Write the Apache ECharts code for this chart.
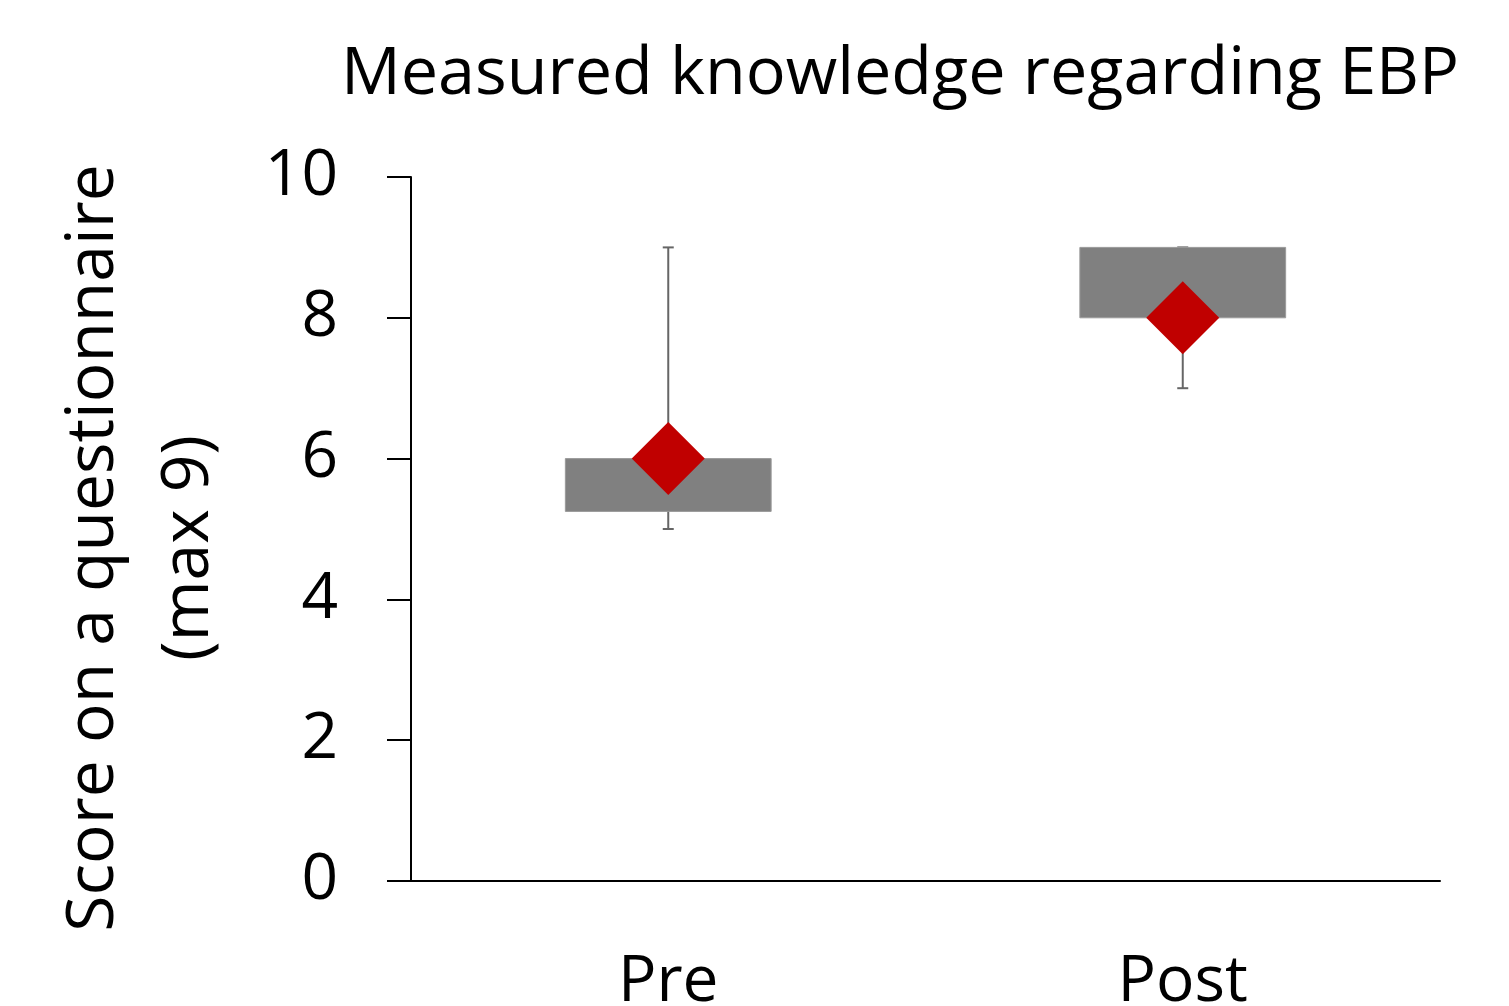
<!DOCTYPE html>
<html>
<head>
<meta charset="utf-8">
<script src="https://cdn.jsdelivr.net/npm/echarts@6/dist/echarts.min.js"></script>
<style>
  html, body { margin: 0; padding: 0; background: #fff; }
  #chart { width: 1509px; height: 1006px; }
</style>
</head>
<body>
<div id="chart"></div>
<script>
// Knowledge scores before and after the EBP course
const categories = ['Pre', 'Post'];
const whiskerLow = [5, 7];
const boxLow = [5.25, 8];
const boxHigh = [6, 9];
const whiskerHigh = [9, 9];
const means = [6, 8];
const yTicks = [0, 2, 4, 6, 8, 10];

const FONT = '"Open Sans", sans-serif';

const boxData = categories.map((c, i) => [i, whiskerLow[i], boxLow[i], boxHigh[i], whiskerHigh[i]]);
const meanData = categories.map((c, i) => [i, means[i]]);

function renderBox(params, api) {
  const x = api.value(0);
  const pLow = api.coord([x, api.value(1)]);
  const pQ1 = api.coord([x, api.value(2)]);
  const pQ3 = api.coord([x, api.value(3)]);
  const pHigh = api.coord([x, api.value(4)]);
  const bandW = api.size([1, 0])[0];
  const boxW = bandW * 0.4;
  const capW = 11;
  const cx = pLow[0];
  const whiskerStyle = { stroke: '#666666', lineWidth: 2 };
  return {
    type: 'group',
    children: [
      { type: 'line', shape: { x1: cx, y1: pLow[1], x2: cx, y2: pHigh[1] }, style: whiskerStyle },
      { type: 'line', shape: { x1: cx - capW / 2, y1: pLow[1], x2: cx + capW / 2, y2: pLow[1] }, style: whiskerStyle },
      { type: 'line', shape: { x1: cx - capW / 2, y1: pHigh[1], x2: cx + capW / 2, y2: pHigh[1] }, style: whiskerStyle },
      {
        type: 'rect',
        shape: { x: cx - boxW / 2, y: pQ3[1], width: boxW, height: pQ1[1] - pQ3[1] },
        style: { fill: '#808080', stroke: '#9a9a9a', lineWidth: 1 }
      }
    ]
  };
}

const chart = echarts.init(document.getElementById('chart'), null, { renderer: 'canvas' });
chart.setOption({
  animation: false,
  backgroundColor: '#ffffff',
  title: {
    text: 'Measured knowledge regarding EBP',
    left: 895,
    top: 37,
    textAlign: 'center',
    textStyle: { fontFamily: FONT, fontSize: 66.5, fontWeight: 'normal', color: '#000' }
  },
  grid: { left: 411, right: 69, top: 177, bottom: 125, containLabel: false, outerBoundsMode: 'none' },
  xAxis: {
    type: 'category',
    data: categories,
    axisLine: { show: true, lineStyle: { color: '#000', width: 2 } },
    axisTick: { show: false },
    axisLabel: { margin: 70, fontFamily: FONT, fontSize: 64, color: '#000' },
    splitLine: { show: false }
  },
  yAxis: {
    type: 'value',
    min: yTicks[0],
    max: yTicks[yTicks.length - 1],
    interval: yTicks[1] - yTicks[0],
    axisLine: { show: true, lineStyle: { color: '#000', width: 2 } },
    axisTick: { show: true, length: 24, lineStyle: { color: '#000', width: 2 } },
    axisLabel: { margin: 73, fontFamily: FONT, fontSize: 64, color: '#000' },
    splitLine: { show: false }
  },
  graphic: [
    {
      type: 'text',
      x: 142,
      y: 548,
      rotation: Math.PI / 2,
      style: {
        text: 'Score on a questionnaire\n(max 9)',
        font: '66px ' + FONT,
        fill: '#000',
        textAlign: 'center',
        textVerticalAlign: 'middle',
        lineHeight: 95
      }
    }
  ],
  series: [
    {
      type: 'custom',
      renderItem: renderBox,
      data: boxData,
      encode: { x: 0, y: [1, 2, 3, 4] },
      z: 2
    },
    {
      type: 'scatter',
      data: meanData,
      symbol: 'diamond',
      symbolSize: 73,
      itemStyle: { color: '#C00000', opacity: 1 },
      z: 3
    }
  ]
});
</script>
</body>
</html>
